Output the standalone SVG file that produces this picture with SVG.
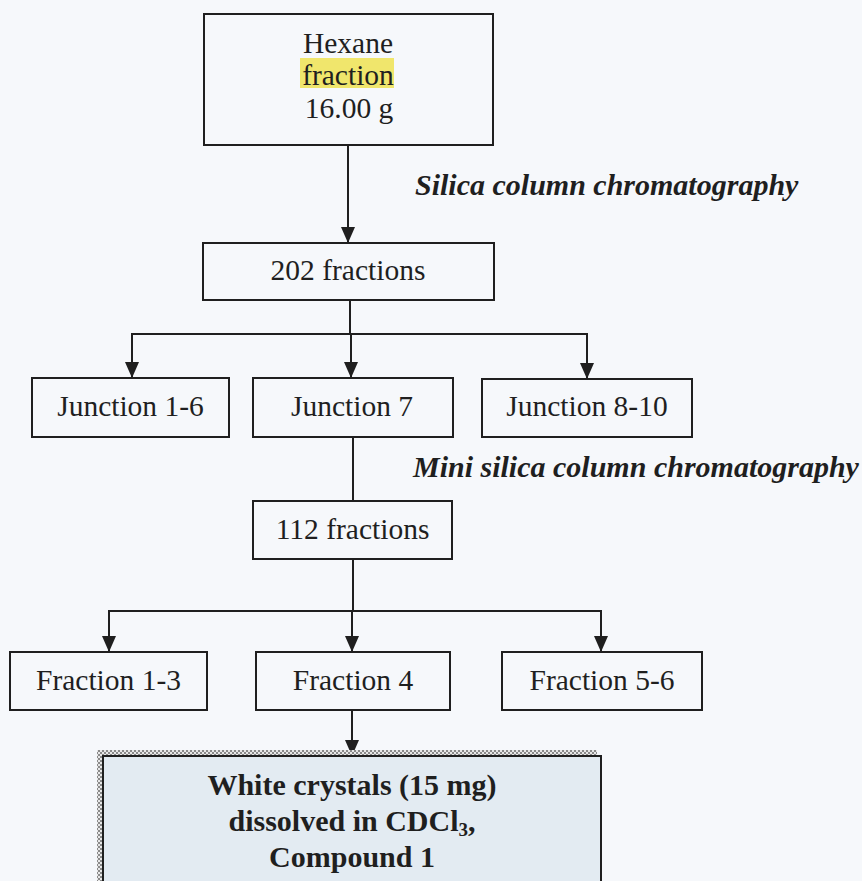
<svg xmlns="http://www.w3.org/2000/svg" width="862" height="881" viewBox="0 0 862 881">
  <defs>
    <style>
      .box { fill: none; stroke: #1f1f1f; stroke-width: 2; }
      .line { fill: none; stroke: #1f1f1f; stroke-width: 2; }
      .t { font-family: "Liberation Serif", "Times New Roman", serif; font-size: 29.5px; fill: #1f1f1f; text-anchor: middle; }
      .lbl { font-family: "Liberation Serif", "Times New Roman", serif; font-size: 30px; font-weight: bold; font-style: italic; fill: #1f1f1f; }
      .bold { font-family: "Liberation Serif", "Times New Roman", serif; font-size: 30px; font-weight: bold; fill: #1f1f1f; text-anchor: middle; }
    </style>
    <marker id="down" viewBox="0 0 14 16" markerWidth="14" markerHeight="16" refX="7" refY="16" orient="0" markerUnits="userSpaceOnUse">
      <path d="M0,0 L14,0 L7,16 Z" fill="#1f1f1f"/>
    </marker>
    <pattern id="dither" width="4" height="4" patternUnits="userSpaceOnUse">
      <rect width="4" height="4" fill="#e8e8e8"/>
      <rect width="2" height="2" fill="#8a8a8a"/>
      <rect x="2" y="2" width="2" height="2" fill="#8a8a8a"/>
    </pattern>
  </defs>

  <!-- page -->
  <rect width="862" height="881" fill="#f6f8fb"/>

  <!-- connectors -->
  <g id="connectors">
    <line class="line" x1="348" y1="145" x2="348" y2="243" marker-end="url(#down)"/>
    <polyline class="line" points="350,300 350,334"/>
    <polyline class="line" points="132,334 587,334"/>
    <line class="line" x1="132" y1="333" x2="132" y2="378" marker-end="url(#down)"/>
    <line class="line" x1="351" y1="334" x2="351" y2="378" marker-end="url(#down)"/>
    <line class="line" x1="587" y1="333" x2="587" y2="379" marker-end="url(#down)"/>
    <line class="line" x1="353" y1="437" x2="353" y2="501"/>
    <polyline class="line" points="353,559 353,611"/>
    <polyline class="line" points="109,611 601,611"/>
    <line class="line" x1="109" y1="610" x2="109" y2="652" marker-end="url(#down)"/>
    <line class="line" x1="352" y1="611" x2="352" y2="652" marker-end="url(#down)"/>
    <line class="line" x1="601" y1="610" x2="601" y2="652" marker-end="url(#down)"/>
    <line class="line" x1="352" y1="710" x2="352" y2="756" marker-end="url(#down)"/>
  </g>

  <!-- step labels -->
  <text class="lbl" x="415" y="195">Silica column chromatography</text>
  <text class="lbl" x="413" y="477">Mini silica column chromatography</text>

  <g id="hexane">
    <rect class="box" x="204" y="14" width="289" height="131"/>
    <rect x="300" y="58" width="94" height="30" fill="#f0e66c"/>
    <text class="t" x="348" y="53">Hexane</text>
    <text class="t" x="348" y="85">fraction</text>
    <text class="t" x="349" y="118">16.00 g</text>
  </g>

  <g id="fractions202">
    <rect class="box" x="203" y="243" width="291" height="57"/>
    <text class="t" x="348" y="280">202 fractions</text>
  </g>

  <g id="junction1-6">
    <rect class="box" x="32" y="378" width="197" height="59"/>
    <text class="t" x="130.5" y="416">Junction 1-6</text>
  </g>

  <g id="junction7">
    <rect class="box" x="253" y="378" width="200" height="59"/>
    <text class="t" x="352" y="416">Junction 7</text>
  </g>

  <g id="junction8-10">
    <rect class="box" x="482" y="379" width="210" height="58"/>
    <text class="t" x="587" y="416">Junction 8-10</text>
  </g>

  <g id="fractions112">
    <rect class="box" x="253" y="501" width="199" height="58"/>
    <text class="t" x="352.5" y="539">112 fractions</text>
  </g>

  <g id="fraction1-3">
    <rect class="box" x="10" y="652" width="197" height="58"/>
    <text class="t" x="108.5" y="690">Fraction 1-3</text>
  </g>

  <g id="fraction4">
    <rect class="box" x="256" y="652" width="194" height="58"/>
    <text class="t" x="353" y="690">Fraction 4</text>
  </g>

  <g id="fraction5-6">
    <rect class="box" x="502" y="652" width="200" height="58"/>
    <text class="t" x="602" y="690">Fraction 5-6</text>
  </g>

  <g id="compound1">
    <rect x="97" y="750" width="500" height="140" fill="url(#dither)"/>
    <rect x="103" y="756" width="498" height="140" fill="#e3ebf2" stroke="#1f1f1f" stroke-width="2"/>
    <text class="bold" x="352" y="795">White crystals (15 mg)</text>
    <text class="bold" x="352" y="831">dissolved in CDCl<tspan font-size="19" dy="5">3</tspan><tspan dy="-5">,</tspan></text>
    <text class="bold" x="352" y="867">Compound 1</text>
  </g>
</svg>
